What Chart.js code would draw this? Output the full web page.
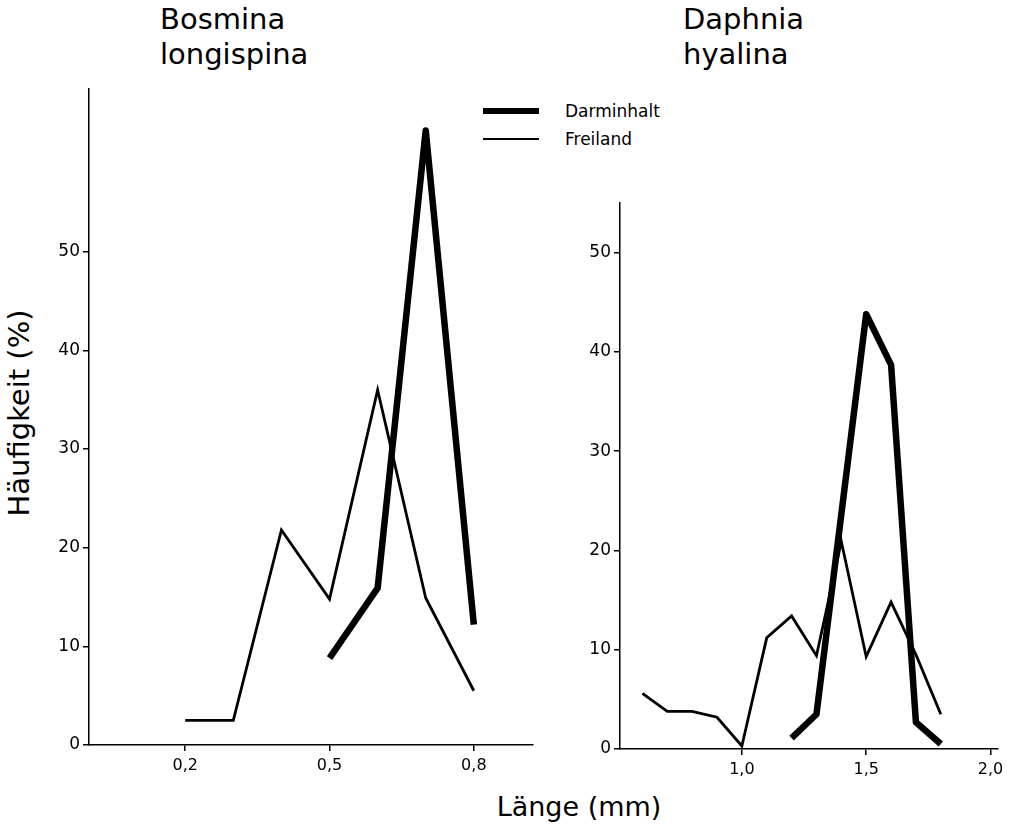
<!DOCTYPE html>
<html lang="de">
<head>
    <meta charset="UTF-8">
    <title>Häufigkeit nach Länge</title>
    <script src="https://cdn.jsdelivr.net/npm/chart.js"></script>
    <style>
        body {
            margin: 0;
            width: 1013px;
            height: 825px;
            background: #fff;
            position: relative;
            overflow: hidden;
            font-family: "DejaVu Sans", sans-serif;
            color: #000;
        }
        .box {
            position: absolute;
            top: 0;
        }
        .title {
            position: absolute;
            font-size: 29px;
            line-height: 35px;
        }
        #ytitle {
            position: absolute;
            left: 19px;
            top: 413px;
            font-size: 29px;
            transform: translate(-50%, -50%) rotate(-90deg);
            white-space: nowrap;
        }
        #xtitle {
            position: absolute;
            left: 579px;
            top: 806px;
            font-size: 27px;
            transform: translate(-50%, -50%);
            white-space: nowrap;
        }
        #legend {
            position: absolute;
            left: 483px;
            top: 97px;
            font-size: 17px;
        }
        .item {
            height: 28px;
            display: flex;
            align-items: center;
        }
        .swatch {
            width: 56px;
            background: #000;
            margin-right: 26px;
        }
    </style>
</head>
<body>
    <div class="title" style="left:160px; top:2px;">Bosmina<br>longispina</div>
    <div class="title" style="left:683px; top:2px;">Daphnia<br>hyalina</div>
    <div id="ytitle">Häufigkeit (%)</div>
    <div id="xtitle">Länge (mm)</div>
    <div id="legend"></div>

    <div class="box" style="left:0; width:560px; height:825px;"><canvas id="bosmina"></canvas></div>
    <div class="box" style="left:560px; width:453px; height:825px;"><canvas id="daphnia"></canvas></div>

    <script>
        // Bosmina longispina
        const bosLaenge = [0.2, 0.3, 0.4, 0.5, 0.6, 0.7, 0.8];
        const bosFreiland = [2.5, 2.5, 21.8, 14.8, 36, 14.9, 5.5];
        const bosDarmLaenge = [0.5, 0.6, 0.7, 0.8];
        const bosDarminhalt = [8.8, 15.9, 62.3, 12.2];
        const bosXTicks = [0.2, 0.5, 0.8];

        // Daphnia hyalina
        const daphLaenge = [0.6, 0.7, 0.8, 0.9, 1.0, 1.1, 1.2, 1.3, 1.4, 1.5, 1.6, 1.7, 1.8];
        const daphFreiland = [5.6, 3.8, 3.8, 3.2, 0.3, 11.2, 13.4, 9.4, 20.9, 9.3, 14.8, 9.5, 3.5];
        const daphDarmLaenge = [1.2, 1.3, 1.5, 1.6, 1.7, 1.8];
        const daphDarminhalt = [1.1, 3.5, 43.8, 38.7, 2.7, 0.5];
        const daphXTicks = [1.0, 1.5, 2.0];

        const yTicks = [0, 10, 20, 30, 40, 50];
        const seriesNames = ['Darminhalt', 'Freiland'];
        const seriesWidths = [6.5, 2.8];

        Chart.defaults.font.family = '"DejaVu Sans", sans-serif';
        Chart.defaults.color = '#000';
        Chart.defaults.animation = false;

        function pts(xs, ys) {
            return xs.map((x, i) => ({ x: x, y: ys[i] }));
        }

        function komma(v) {
            return v.toFixed(1).replace('.', ',');
        }

        function makeChart(id, opt) {
            const ctx = document.getElementById(id).getContext('2d');
            return new Chart(ctx, {
                type: 'line',
                data: {
                    datasets: [
                        {
                            label: seriesNames[0],
                            data: pts(opt.darmX, opt.darmY),
                            borderColor: '#000',
                            borderWidth: seriesWidths[0],
                            borderJoinStyle: 'round',
                            pointRadius: 0,
                            tension: 0
                        },
                        {
                            label: seriesNames[1],
                            data: pts(opt.freiX, opt.freiY),
                            borderColor: '#000',
                            borderWidth: seriesWidths[1],
                            borderJoinStyle: 'miter',
                            pointRadius: 0,
                            tension: 0
                        }
                    ]
                },
                options: {
                    responsive: true,
                    maintainAspectRatio: false,
                    layout: { padding: opt.padding },
                    plugins: {
                        legend: { display: false },
                        tooltip: { enabled: false }
                    },
                    scales: {
                        x: {
                            type: 'linear',
                            min: opt.xMin,
                            max: opt.xMax,
                            afterBuildTicks: s => { s.ticks = opt.xTicks.map(v => ({ value: v })); },
                            afterFit: s => { s.height = opt.xHeight; },
                            border: { display: true, color: '#000', width: 1.5 },
                            grid: { drawOnChartArea: false, drawTicks: true, tickLength: 6, color: '#000', lineWidth: 1.5 },
                            ticks: { font: { size: 16 }, padding: 5, maxRotation: 0, callback: v => komma(v) }
                        },
                        y: {
                            min: 0,
                            max: opt.yMax,
                            afterBuildTicks: s => { s.ticks = yTicks.map(v => ({ value: v })); },
                            afterFit: s => { s.width = opt.yWidth; },
                            border: { display: true, color: '#000', width: 1.5 },
                            grid: { drawOnChartArea: false, drawTicks: true, tickLength: 6, color: '#000', lineWidth: 1.5 },
                            ticks: { font: { size: 17 }, padding: 3 }
                        }
                    }
                }
            });
        }

        makeChart('bosmina', {
            darmX: bosDarmLaenge, darmY: bosDarminhalt,
            freiX: bosLaenge, freiY: bosFreiland,
            xMin: 0, xMax: 0.923, xTicks: bosXTicks, yMax: 66.5,
            xHeight: 80, yWidth: 89,
            padding: { top: 89, right: 27, left: 0, bottom: 0 }
        });

        makeChart('daphnia', {
            darmX: daphDarmLaenge, darmY: daphDarminhalt,
            freiX: daphLaenge, freiY: daphFreiland,
            xMin: 0.51, xMax: 2.03, xTicks: daphXTicks, yMax: 55,
            xHeight: 76, yWidth: 60,
            padding: { top: 203, right: 15, left: 0, bottom: 0 }
        });

        // legend swatches built from the same names and widths
        const legend = document.getElementById('legend');
        seriesNames.forEach((name, i) => {
            const row = document.createElement('div');
            row.className = 'item';
            const sw = document.createElement('div');
            sw.className = 'swatch';
            sw.style.height = seriesWidths[i] + 'px';
            const txt = document.createElement('span');
            txt.textContent = name;
            row.appendChild(sw);
            row.appendChild(txt);
            legend.appendChild(row);
        });
    </script>
</body>
</html>
